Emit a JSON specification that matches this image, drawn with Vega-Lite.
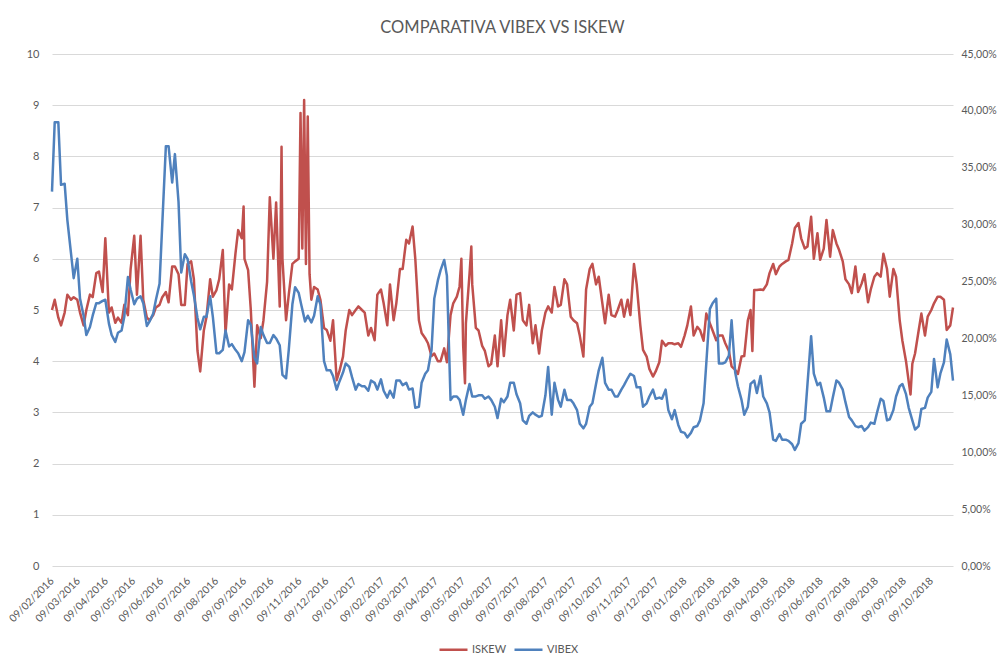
{
  "$schema": "https://vega.github.io/schema/vega-lite/v6.json",
  "width": 901,
  "height": 512,
  "autosize": {"type": "none"},
  "padding": {"left": 52, "top": 54, "right": 47, "bottom": 94},
  "background": "white",
  "title": {"text": "COMPARATIVA VIBEX VS ISKEW", "fontSize": 16.5, "font": "Lato", "fontWeight": "normal", "color": "#595959", "anchor": "middle", "offset": 12},
  "config": {
    "view": {"stroke": null},
    "axis": {"labelFont": "Lato", "labelColor": "#595959", "labelFontSize": 11, "domain": false, "ticks": false, "title": null},
    "axisX": {"labelOverlap": false, "labelBound": false, "labelSeparation": 0},
    "legend": {"labelFont": "Lato", "labelColor": "#595959", "labelFontSize": 11}
  },
  "datasets": {
    "iskew": [
      {"d":"2016-02-09","y":5.0},{"d":"2016-02-12","y":5.2},{"d":"2016-02-16","y":4.85},{"d":"2016-02-19","y":4.7},{"d":"2016-02-23","y":4.95},{"d":"2016-02-26","y":5.3},
      {"d":"2016-03-01","y":5.2},{"d":"2016-03-04","y":5.25},{"d":"2016-03-08","y":5.2},{"d":"2016-03-11","y":4.95},{"d":"2016-03-15","y":4.7},{"d":"2016-03-18","y":5.0},{"d":"2016-03-22","y":5.3},{"d":"2016-03-25","y":5.25},{"d":"2016-03-29","y":5.72},
      {"d":"2016-04-01","y":5.75},{"d":"2016-04-05","y":5.35},{"d":"2016-04-08","y":6.4},{"d":"2016-04-12","y":4.95},{"d":"2016-04-15","y":5.05},{"d":"2016-04-19","y":4.75},{"d":"2016-04-22","y":4.85},{"d":"2016-04-26","y":4.75},{"d":"2016-04-29","y":5.1},
      {"d":"2016-05-03","y":4.9},{"d":"2016-05-06","y":5.8},{"d":"2016-05-10","y":6.45},{"d":"2016-05-13","y":5.3},{"d":"2016-05-17","y":6.45},{"d":"2016-05-20","y":5.2},{"d":"2016-05-24","y":4.85},{"d":"2016-05-27","y":4.8},{"d":"2016-05-31","y":4.9},
      {"d":"2016-06-03","y":5.05},{"d":"2016-06-07","y":5.1},{"d":"2016-06-10","y":5.25},{"d":"2016-06-14","y":5.35},{"d":"2016-06-17","y":5.15},{"d":"2016-06-21","y":5.85},{"d":"2016-06-24","y":5.85},{"d":"2016-06-28","y":5.7},
      {"d":"2016-07-01","y":5.1},{"d":"2016-07-05","y":5.1},{"d":"2016-07-08","y":5.9},{"d":"2016-07-12","y":5.95},{"d":"2016-07-15","y":5.6},{"d":"2016-07-19","y":4.2},{"d":"2016-07-22","y":3.8},{"d":"2016-07-26","y":4.6},{"d":"2016-07-29","y":4.87},
      {"d":"2016-08-02","y":5.6},{"d":"2016-08-05","y":5.26},{"d":"2016-08-09","y":5.39},{"d":"2016-08-12","y":5.6},{"d":"2016-08-16","y":6.17},{"d":"2016-08-19","y":4.54},{"d":"2016-08-23","y":5.5},{"d":"2016-08-26","y":5.4},{"d":"2016-08-30","y":6.1},
      {"d":"2016-09-02","y":6.56},{"d":"2016-09-06","y":6.4},{"d":"2016-09-08","y":7.02},{"d":"2016-09-09","y":6.0},{"d":"2016-09-13","y":5.78},{"d":"2016-09-16","y":5.0},{"d":"2016-09-20","y":3.5},{"d":"2016-09-23","y":4.7},{"d":"2016-09-27","y":4.45},{"d":"2016-09-30","y":4.8},
      {"d":"2016-10-04","y":5.55},{"d":"2016-10-07","y":7.2},{"d":"2016-10-11","y":6.0},{"d":"2016-10-14","y":7.1},{"d":"2016-10-18","y":5.07},{"d":"2016-10-20","y":8.19},{"d":"2016-10-21","y":6.0},{"d":"2016-10-25","y":4.8},{"d":"2016-10-28","y":5.3},
      {"d":"2016-11-01","y":5.9},{"d":"2016-11-04","y":5.95},{"d":"2016-11-08","y":6.0},{"d":"2016-11-10","y":8.85},{"d":"2016-11-12","y":6.2},{"d":"2016-11-14","y":9.1},{"d":"2016-11-16","y":5.9},{"d":"2016-11-18","y":8.78},{"d":"2016-11-20","y":5.7},{"d":"2016-11-22","y":5.2},{"d":"2016-11-25","y":5.45},{"d":"2016-11-29","y":5.4},
      {"d":"2016-12-02","y":5.2},{"d":"2016-12-06","y":4.65},{"d":"2016-12-09","y":4.61},{"d":"2016-12-13","y":4.4},{"d":"2016-12-16","y":4.8},{"d":"2016-12-20","y":3.63},{"d":"2016-12-23","y":3.8},{"d":"2016-12-27","y":4.09},{"d":"2016-12-30","y":4.6},
      {"d":"2017-01-03","y":5.0},{"d":"2017-01-06","y":4.9},{"d":"2017-01-10","y":5.0},{"d":"2017-01-13","y":5.07},{"d":"2017-01-17","y":5.0},{"d":"2017-01-20","y":4.95},{"d":"2017-01-24","y":4.5},{"d":"2017-01-27","y":4.65},{"d":"2017-01-31","y":4.41},
      {"d":"2017-02-03","y":5.3},{"d":"2017-02-07","y":5.4},{"d":"2017-02-10","y":5.13},{"d":"2017-02-14","y":4.7},{"d":"2017-02-17","y":5.5},{"d":"2017-02-21","y":4.8},{"d":"2017-02-24","y":5.13},{"d":"2017-02-28","y":5.8},
      {"d":"2017-03-03","y":5.8},{"d":"2017-03-07","y":6.37},{"d":"2017-03-10","y":6.3},{"d":"2017-03-14","y":6.63},{"d":"2017-03-17","y":6.0},{"d":"2017-03-21","y":4.8},{"d":"2017-03-24","y":4.55},{"d":"2017-03-28","y":4.45},{"d":"2017-03-31","y":4.35},
      {"d":"2017-04-04","y":4.1},{"d":"2017-04-07","y":4.15},{"d":"2017-04-11","y":4.0},{"d":"2017-04-14","y":4.0},{"d":"2017-04-18","y":4.25},{"d":"2017-04-21","y":3.98},{"d":"2017-04-25","y":4.9},{"d":"2017-04-28","y":5.13},
      {"d":"2017-05-02","y":5.26},{"d":"2017-05-05","y":5.46},{"d":"2017-05-07","y":6.0},{"d":"2017-05-09","y":4.3},{"d":"2017-05-11","y":3.57},{"d":"2017-05-12","y":4.74},{"d":"2017-05-16","y":5.7},{"d":"2017-05-18","y":6.24},{"d":"2017-05-19","y":5.5},{"d":"2017-05-23","y":4.65},{"d":"2017-05-26","y":4.6},{"d":"2017-05-30","y":4.3},
      {"d":"2017-06-02","y":4.2},{"d":"2017-06-06","y":3.9},{"d":"2017-06-09","y":3.95},{"d":"2017-06-13","y":4.5},{"d":"2017-06-16","y":3.9},{"d":"2017-06-20","y":4.8},{"d":"2017-06-23","y":4.1},{"d":"2017-06-27","y":4.9},{"d":"2017-06-30","y":5.2},
      {"d":"2017-07-04","y":4.6},{"d":"2017-07-07","y":5.3},{"d":"2017-07-11","y":5.33},{"d":"2017-07-14","y":4.8},{"d":"2017-07-18","y":4.7},{"d":"2017-07-21","y":5.1},{"d":"2017-07-25","y":4.35},{"d":"2017-07-28","y":4.7},
      {"d":"2017-08-01","y":4.15},{"d":"2017-08-04","y":4.6},{"d":"2017-08-08","y":4.95},{"d":"2017-08-11","y":5.07},{"d":"2017-08-15","y":4.95},{"d":"2017-08-18","y":5.45},{"d":"2017-08-22","y":5.07},{"d":"2017-08-25","y":5.1},{"d":"2017-08-29","y":5.6},
      {"d":"2017-09-01","y":5.5},{"d":"2017-09-05","y":4.87},{"d":"2017-09-08","y":4.8},{"d":"2017-09-12","y":4.74},{"d":"2017-09-15","y":4.5},{"d":"2017-09-19","y":4.09},{"d":"2017-09-22","y":5.4},{"d":"2017-09-26","y":5.8},{"d":"2017-09-29","y":5.9},
      {"d":"2017-10-03","y":5.5},{"d":"2017-10-06","y":5.65},{"d":"2017-10-10","y":5.13},{"d":"2017-10-13","y":4.74},{"d":"2017-10-17","y":5.3},{"d":"2017-10-20","y":4.9},{"d":"2017-10-24","y":4.87},{"d":"2017-10-27","y":5.0},{"d":"2017-10-31","y":5.2},
      {"d":"2017-11-03","y":4.87},{"d":"2017-11-07","y":5.2},{"d":"2017-11-10","y":4.9},{"d":"2017-11-14","y":5.9},{"d":"2017-11-17","y":5.5},{"d":"2017-11-21","y":4.7},{"d":"2017-11-24","y":4.22},{"d":"2017-11-28","y":4.09},
      {"d":"2017-12-01","y":3.85},{"d":"2017-12-05","y":3.7},{"d":"2017-12-08","y":3.8},{"d":"2017-12-12","y":3.98},{"d":"2017-12-15","y":4.4},{"d":"2017-12-19","y":4.3},{"d":"2017-12-22","y":4.35},{"d":"2017-12-26","y":4.35},{"d":"2017-12-29","y":4.33},
      {"d":"2018-01-02","y":4.35},{"d":"2018-01-05","y":4.28},{"d":"2018-01-09","y":4.5},{"d":"2018-01-12","y":4.7},{"d":"2018-01-16","y":5.07},{"d":"2018-01-19","y":4.5},{"d":"2018-01-23","y":4.67},{"d":"2018-01-26","y":4.61},{"d":"2018-01-30","y":4.4},
      {"d":"2018-02-02","y":4.93},{"d":"2018-02-06","y":4.74},{"d":"2018-02-09","y":4.6},{"d":"2018-02-13","y":4.41},{"d":"2018-02-16","y":4.5},{"d":"2018-02-20","y":4.5},{"d":"2018-02-23","y":4.35},{"d":"2018-02-27","y":4.2},
      {"d":"2018-03-02","y":3.9},{"d":"2018-03-06","y":3.83},{"d":"2018-03-09","y":3.75},{"d":"2018-03-13","y":4.09},{"d":"2018-03-16","y":4.1},{"d":"2018-03-20","y":4.8},{"d":"2018-03-23","y":5.0},{"d":"2018-03-25","y":4.2},{"d":"2018-03-27","y":5.39},{"d":"2018-03-30","y":5.39},
      {"d":"2018-04-03","y":5.4},{"d":"2018-04-06","y":5.39},{"d":"2018-04-10","y":5.5},{"d":"2018-04-13","y":5.72},{"d":"2018-04-17","y":5.9},{"d":"2018-04-20","y":5.7},{"d":"2018-04-24","y":5.85},{"d":"2018-04-27","y":5.9},
      {"d":"2018-05-01","y":5.95},{"d":"2018-05-04","y":5.98},{"d":"2018-05-08","y":6.3},{"d":"2018-05-11","y":6.6},{"d":"2018-05-15","y":6.7},{"d":"2018-05-18","y":6.4},{"d":"2018-05-22","y":6.2},{"d":"2018-05-25","y":6.24},{"d":"2018-05-29","y":6.82},
      {"d":"2018-06-01","y":6.0},{"d":"2018-06-05","y":6.5},{"d":"2018-06-08","y":5.98},{"d":"2018-06-12","y":6.2},{"d":"2018-06-15","y":6.76},{"d":"2018-06-19","y":6.04},{"d":"2018-06-22","y":6.56},{"d":"2018-06-26","y":6.3},{"d":"2018-06-29","y":6.17},
      {"d":"2018-07-03","y":5.95},{"d":"2018-07-06","y":5.6},{"d":"2018-07-10","y":5.5},{"d":"2018-07-13","y":5.33},{"d":"2018-07-17","y":5.85},{"d":"2018-07-20","y":5.35},{"d":"2018-07-24","y":5.52},{"d":"2018-07-27","y":5.7},{"d":"2018-07-31","y":5.15},
      {"d":"2018-08-03","y":5.4},{"d":"2018-08-07","y":5.65},{"d":"2018-08-10","y":5.72},{"d":"2018-08-14","y":5.65},{"d":"2018-08-17","y":6.1},{"d":"2018-08-21","y":5.8},{"d":"2018-08-24","y":5.26},{"d":"2018-08-28","y":5.8},{"d":"2018-08-31","y":5.65},
      {"d":"2018-09-04","y":4.8},{"d":"2018-09-07","y":4.4},{"d":"2018-09-11","y":4.0},{"d":"2018-09-14","y":3.6},{"d":"2018-09-16","y":3.35},{"d":"2018-09-18","y":3.95},{"d":"2018-09-21","y":4.15},{"d":"2018-09-25","y":4.6},{"d":"2018-09-28","y":4.93},
      {"d":"2018-10-02","y":4.5},{"d":"2018-10-05","y":4.87},{"d":"2018-10-09","y":5.0},{"d":"2018-10-12","y":5.13},{"d":"2018-10-16","y":5.26},{"d":"2018-10-19","y":5.26},{"d":"2018-10-23","y":5.2},{"d":"2018-10-26","y":4.61},{"d":"2018-10-30","y":4.7},{"d":"2018-11-02","y":5.05}
    ],
    "vibex": [
      {"d":"2016-02-09","y":32.9},{"d":"2016-02-12","y":39.0},{"d":"2016-02-16","y":39.0},{"d":"2016-02-19","y":33.5},{"d":"2016-02-23","y":33.6},{"d":"2016-02-26","y":30.4},
      {"d":"2016-03-01","y":27.5},{"d":"2016-03-04","y":25.3},{"d":"2016-03-08","y":27.0},{"d":"2016-03-11","y":23.5},{"d":"2016-03-15","y":22.0},{"d":"2016-03-18","y":20.3},{"d":"2016-03-22","y":21.0},{"d":"2016-03-25","y":22.0},{"d":"2016-03-29","y":23.1},
      {"d":"2016-04-01","y":23.1},{"d":"2016-04-05","y":23.3},{"d":"2016-04-08","y":23.4},{"d":"2016-04-12","y":21.3},{"d":"2016-04-15","y":20.3},{"d":"2016-04-19","y":19.7},{"d":"2016-04-22","y":20.5},{"d":"2016-04-26","y":20.7},{"d":"2016-04-29","y":21.9},
      {"d":"2016-05-03","y":25.4},{"d":"2016-05-06","y":24.3},{"d":"2016-05-10","y":23.0},{"d":"2016-05-13","y":23.5},{"d":"2016-05-17","y":23.7},{"d":"2016-05-20","y":23.1},{"d":"2016-05-24","y":21.1},{"d":"2016-05-27","y":21.5},{"d":"2016-05-31","y":22.2},
      {"d":"2016-06-03","y":23.4},{"d":"2016-06-07","y":24.8},{"d":"2016-06-10","y":30.0},{"d":"2016-06-14","y":36.9},{"d":"2016-06-17","y":36.9},{"d":"2016-06-21","y":33.7},{"d":"2016-06-24","y":36.2},{"d":"2016-06-28","y":32.0},
      {"d":"2016-07-01","y":25.8},{"d":"2016-07-05","y":27.4},{"d":"2016-07-08","y":27.0},{"d":"2016-07-12","y":25.0},{"d":"2016-07-15","y":23.8},{"d":"2016-07-19","y":21.8},{"d":"2016-07-22","y":20.8},{"d":"2016-07-26","y":21.9},{"d":"2016-07-29","y":21.9},
      {"d":"2016-08-02","y":23.7},{"d":"2016-08-05","y":21.9},{"d":"2016-08-09","y":18.7},{"d":"2016-08-12","y":18.7},{"d":"2016-08-16","y":19.0},{"d":"2016-08-19","y":20.7},{"d":"2016-08-23","y":19.3},{"d":"2016-08-26","y":19.5},{"d":"2016-08-30","y":19.0},
      {"d":"2016-09-02","y":18.7},{"d":"2016-09-06","y":18.0},{"d":"2016-09-09","y":18.8},{"d":"2016-09-13","y":21.6},{"d":"2016-09-16","y":21.2},{"d":"2016-09-20","y":18.3},{"d":"2016-09-23","y":17.8},{"d":"2016-09-27","y":21.0},{"d":"2016-09-30","y":20.3},
      {"d":"2016-10-04","y":19.6},{"d":"2016-10-07","y":19.6},{"d":"2016-10-11","y":20.3},{"d":"2016-10-14","y":20.0},{"d":"2016-10-18","y":19.4},{"d":"2016-10-21","y":16.8},{"d":"2016-10-25","y":16.5},{"d":"2016-10-28","y":19.0},
      {"d":"2016-11-01","y":23.0},{"d":"2016-11-04","y":24.5},{"d":"2016-11-08","y":24.0},{"d":"2016-11-11","y":22.9},{"d":"2016-11-15","y":21.5},{"d":"2016-11-18","y":22.0},{"d":"2016-11-22","y":21.4},{"d":"2016-11-25","y":22.0},{"d":"2016-11-29","y":23.7},
      {"d":"2016-12-02","y":23.0},{"d":"2016-12-06","y":18.0},{"d":"2016-12-09","y":17.2},{"d":"2016-12-13","y":17.2},{"d":"2016-12-16","y":16.7},{"d":"2016-12-20","y":15.5},{"d":"2016-12-23","y":16.2},{"d":"2016-12-27","y":17.0},{"d":"2016-12-30","y":17.8},
      {"d":"2017-01-03","y":17.5},{"d":"2017-01-06","y":16.6},{"d":"2017-01-10","y":15.5},{"d":"2017-01-13","y":16.0},{"d":"2017-01-17","y":15.8},{"d":"2017-01-20","y":15.8},{"d":"2017-01-24","y":15.4},{"d":"2017-01-27","y":16.3},{"d":"2017-01-31","y":16.1},
      {"d":"2017-02-03","y":15.5},{"d":"2017-02-07","y":16.4},{"d":"2017-02-10","y":15.4},{"d":"2017-02-14","y":14.8},{"d":"2017-02-17","y":15.4},{"d":"2017-02-21","y":14.8},{"d":"2017-02-24","y":16.3},{"d":"2017-02-28","y":16.3},
      {"d":"2017-03-03","y":15.9},{"d":"2017-03-07","y":16.1},{"d":"2017-03-10","y":15.5},{"d":"2017-03-14","y":15.6},{"d":"2017-03-17","y":13.9},{"d":"2017-03-21","y":14.0},{"d":"2017-03-24","y":16.1},{"d":"2017-03-28","y":16.9},{"d":"2017-03-31","y":17.2},
      {"d":"2017-04-04","y":19.0},{"d":"2017-04-07","y":23.5},{"d":"2017-04-11","y":25.1},{"d":"2017-04-14","y":26.0},{"d":"2017-04-18","y":26.9},{"d":"2017-04-21","y":25.5},{"d":"2017-04-25","y":14.6},{"d":"2017-04-28","y":14.9},
      {"d":"2017-05-02","y":14.9},{"d":"2017-05-05","y":14.6},{"d":"2017-05-09","y":13.3},{"d":"2017-05-12","y":14.6},{"d":"2017-05-16","y":16.0},{"d":"2017-05-19","y":14.9},{"d":"2017-05-23","y":14.9},{"d":"2017-05-26","y":15.0},{"d":"2017-05-30","y":15.0},
      {"d":"2017-06-02","y":14.7},{"d":"2017-06-06","y":14.9},{"d":"2017-06-09","y":14.6},{"d":"2017-06-13","y":14.0},{"d":"2017-06-16","y":13.0},{"d":"2017-06-20","y":14.7},{"d":"2017-06-23","y":14.4},{"d":"2017-06-27","y":14.9},{"d":"2017-06-30","y":16.1},
      {"d":"2017-07-04","y":16.1},{"d":"2017-07-07","y":15.1},{"d":"2017-07-11","y":14.3},{"d":"2017-07-14","y":12.8},{"d":"2017-07-18","y":12.5},{"d":"2017-07-21","y":13.2},{"d":"2017-07-25","y":13.5},{"d":"2017-07-28","y":13.3},
      {"d":"2017-08-01","y":13.1},{"d":"2017-08-04","y":13.2},{"d":"2017-08-08","y":15.0},{"d":"2017-08-11","y":17.5},{"d":"2017-08-15","y":13.3},{"d":"2017-08-18","y":16.1},{"d":"2017-08-22","y":14.6},{"d":"2017-08-25","y":14.0},{"d":"2017-08-29","y":15.5},
      {"d":"2017-09-01","y":14.6},{"d":"2017-09-05","y":14.6},{"d":"2017-09-08","y":14.3},{"d":"2017-09-12","y":13.7},{"d":"2017-09-15","y":12.5},{"d":"2017-09-19","y":12.1},{"d":"2017-09-22","y":12.5},{"d":"2017-09-26","y":14.0},{"d":"2017-09-29","y":14.3},
      {"d":"2017-10-03","y":16.0},{"d":"2017-10-06","y":17.2},{"d":"2017-10-10","y":18.3},{"d":"2017-10-13","y":16.1},{"d":"2017-10-17","y":15.5},{"d":"2017-10-20","y":15.5},{"d":"2017-10-24","y":14.9},{"d":"2017-10-27","y":14.9},{"d":"2017-10-31","y":15.5},
      {"d":"2017-11-03","y":15.9},{"d":"2017-11-07","y":16.5},{"d":"2017-11-10","y":16.9},{"d":"2017-11-14","y":16.7},{"d":"2017-11-17","y":15.7},{"d":"2017-11-21","y":15.7},{"d":"2017-11-24","y":14.0},{"d":"2017-11-28","y":14.3},
      {"d":"2017-12-01","y":14.9},{"d":"2017-12-05","y":15.5},{"d":"2017-12-08","y":14.7},{"d":"2017-12-12","y":14.8},{"d":"2017-12-15","y":14.7},{"d":"2017-12-19","y":15.5},{"d":"2017-12-22","y":13.7},{"d":"2017-12-26","y":12.9},{"d":"2017-12-29","y":13.7},
      {"d":"2018-01-02","y":12.4},{"d":"2018-01-05","y":11.8},{"d":"2018-01-09","y":11.7},{"d":"2018-01-12","y":11.3},{"d":"2018-01-16","y":11.7},{"d":"2018-01-19","y":12.2},{"d":"2018-01-23","y":12.3},{"d":"2018-01-26","y":12.8},{"d":"2018-01-30","y":14.3},
      {"d":"2018-02-02","y":17.8},{"d":"2018-02-06","y":22.6},{"d":"2018-02-09","y":23.1},{"d":"2018-02-13","y":23.5},{"d":"2018-02-16","y":17.8},{"d":"2018-02-20","y":17.8},{"d":"2018-02-23","y":17.9},{"d":"2018-02-27","y":18.5},
      {"d":"2018-03-02","y":21.6},{"d":"2018-03-06","y":17.0},{"d":"2018-03-09","y":15.8},{"d":"2018-03-13","y":14.6},{"d":"2018-03-16","y":13.3},{"d":"2018-03-20","y":14.0},{"d":"2018-03-23","y":16.0},{"d":"2018-03-27","y":16.3},{"d":"2018-03-30","y":15.2},
      {"d":"2018-04-03","y":16.7},{"d":"2018-04-06","y":14.9},{"d":"2018-04-10","y":14.3},{"d":"2018-04-13","y":13.5},{"d":"2018-04-17","y":11.1},{"d":"2018-04-20","y":11.0},{"d":"2018-04-24","y":11.6},{"d":"2018-04-27","y":11.1},
      {"d":"2018-05-01","y":11.1},{"d":"2018-05-04","y":11.0},{"d":"2018-05-08","y":10.7},{"d":"2018-05-11","y":10.2},{"d":"2018-05-15","y":10.8},{"d":"2018-05-18","y":12.5},{"d":"2018-05-22","y":12.8},{"d":"2018-05-25","y":16.0},{"d":"2018-05-29","y":20.2},
      {"d":"2018-06-01","y":16.9},{"d":"2018-06-05","y":15.9},{"d":"2018-06-08","y":16.1},{"d":"2018-06-12","y":14.8},{"d":"2018-06-15","y":13.6},{"d":"2018-06-19","y":13.6},{"d":"2018-06-22","y":14.8},{"d":"2018-06-26","y":16.3},{"d":"2018-06-29","y":16.1},
      {"d":"2018-07-03","y":15.5},{"d":"2018-07-06","y":14.4},{"d":"2018-07-10","y":13.1},{"d":"2018-07-13","y":12.8},{"d":"2018-07-17","y":12.3},{"d":"2018-07-20","y":12.2},{"d":"2018-07-24","y":12.3},{"d":"2018-07-27","y":11.9},{"d":"2018-07-31","y":12.2},
      {"d":"2018-08-03","y":12.6},{"d":"2018-08-07","y":12.5},{"d":"2018-08-10","y":13.5},{"d":"2018-08-14","y":14.7},{"d":"2018-08-17","y":14.5},{"d":"2018-08-21","y":12.8},{"d":"2018-08-24","y":12.9},{"d":"2018-08-28","y":13.7},{"d":"2018-08-31","y":14.9},
      {"d":"2018-09-04","y":15.8},{"d":"2018-09-07","y":16.0},{"d":"2018-09-11","y":15.1},{"d":"2018-09-14","y":13.9},{"d":"2018-09-18","y":12.8},{"d":"2018-09-21","y":12.0},{"d":"2018-09-25","y":12.3},{"d":"2018-09-28","y":13.8},
      {"d":"2018-10-02","y":13.9},{"d":"2018-10-05","y":14.8},{"d":"2018-10-09","y":15.3},{"d":"2018-10-12","y":18.2},{"d":"2018-10-16","y":15.7},{"d":"2018-10-19","y":16.9},{"d":"2018-10-23","y":17.9},{"d":"2018-10-26","y":19.9},{"d":"2018-10-30","y":18.6},{"d":"2018-11-02","y":16.3}
    ]
  },
  "encoding": {
    "x": {
      "field": "d", "type": "temporal",
      "scale": {"type": "utc", "domain": [{"year": 2016, "month": 2, "date": 9, "utc": true}, {"year": 2018, "month": 11, "date": 2, "utc": true}]},
      "axis": {
        "format": "%d/%m/%Y", "labelAngle": -45, "labelAlign": "right", "labelBaseline": "middle", "labelPadding": 13, "labelFontSize": 10.5, "grid": false, "labelOverlap": false, "labelBound": false,
        "values": [
          {"year":2016,"month":2,"date":9,"utc":true},{"year":2016,"month":3,"date":9,"utc":true},{"year":2016,"month":4,"date":9,"utc":true},{"year":2016,"month":5,"date":9,"utc":true},{"year":2016,"month":6,"date":9,"utc":true},{"year":2016,"month":7,"date":9,"utc":true},{"year":2016,"month":8,"date":9,"utc":true},{"year":2016,"month":9,"date":9,"utc":true},{"year":2016,"month":10,"date":9,"utc":true},{"year":2016,"month":11,"date":9,"utc":true},{"year":2016,"month":12,"date":9,"utc":true},
          {"year":2017,"month":1,"date":9,"utc":true},{"year":2017,"month":2,"date":9,"utc":true},{"year":2017,"month":3,"date":9,"utc":true},{"year":2017,"month":4,"date":9,"utc":true},{"year":2017,"month":5,"date":9,"utc":true},{"year":2017,"month":6,"date":9,"utc":true},{"year":2017,"month":7,"date":9,"utc":true},{"year":2017,"month":8,"date":9,"utc":true},{"year":2017,"month":9,"date":9,"utc":true},{"year":2017,"month":10,"date":9,"utc":true},{"year":2017,"month":11,"date":9,"utc":true},{"year":2017,"month":12,"date":9,"utc":true},
          {"year":2018,"month":1,"date":9,"utc":true},{"year":2018,"month":2,"date":9,"utc":true},{"year":2018,"month":3,"date":9,"utc":true},{"year":2018,"month":4,"date":9,"utc":true},{"year":2018,"month":5,"date":9,"utc":true},{"year":2018,"month":6,"date":9,"utc":true},{"year":2018,"month":7,"date":9,"utc":true},{"year":2018,"month":8,"date":9,"utc":true},{"year":2018,"month":9,"date":9,"utc":true},{"year":2018,"month":10,"date":9,"utc":true}
        ]
      }
    }
  },
  "layer": [
    {
      "data": {"name": "iskew"},
      "mark": {"type": "line", "strokeWidth": 2.5, "strokeJoin": "round"},
      "encoding": {
        "y": {
          "field": "y", "type": "quantitative",
          "scale": {"domain": [0, 10], "nice": false, "zero": true},
          "axis": {"orient": "left", "values": [0,1,2,3,4,5,6,7,8,9,10], "grid": true, "gridColor": "#D9D9D9", "gridWidth": 1, "labelPadding": 13, "format": "d"}
        },
        "color": {
          "datum": "ISKEW", "type": "nominal",
          "scale": {"domain": ["ISKEW", "VIBEX"], "range": ["#C0504D", "#4F81BD"]},
          "legend": {"title": null, "orient": "none", "legendX": 386, "legendY": 580, "direction": "horizontal", "symbolType": "stroke", "symbolSize": 784, "symbolStrokeWidth": 2.5, "columnPadding": 2, "labelOffset": 3}
        }
      }
    },
    {
      "data": {"name": "vibex"},
      "mark": {"type": "line", "strokeWidth": 2.5, "strokeJoin": "round"},
      "encoding": {
        "y": {
          "field": "y", "type": "quantitative",
          "scale": {"domain": [0, 45], "nice": false, "zero": true},
          "axis": {"orient": "right", "values": [0,5,10,15,20,25,30,35,40,45], "grid": false, "labelPadding": 8, "labelFontSize": 10.5, "labelExpr": "replace(format(datum.value, '.2f'), '.', ',') + '%'"}
        },
        "color": {"datum": "VIBEX", "type": "nominal"}
      }
    }
  ],
  "resolve": {"scale": {"y": "independent"}}
}
